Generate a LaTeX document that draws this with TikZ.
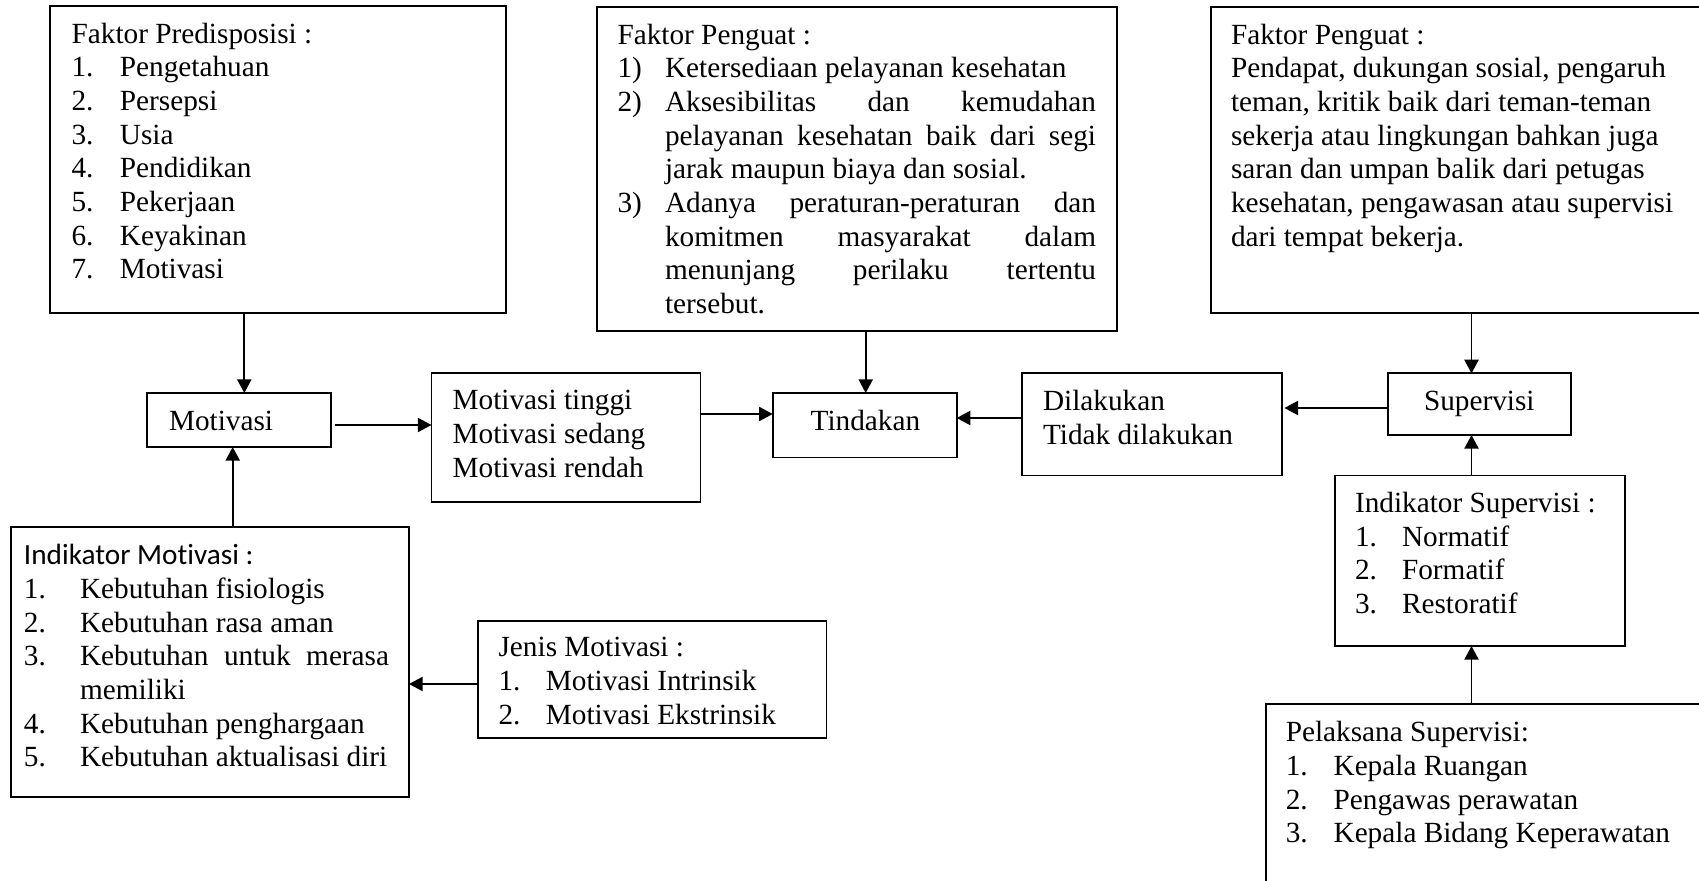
\documentclass[tikz,border=0pt]{standalone}
\usepackage{fontspec}
\setmainfont{Liberation Serif}
\newfontfamily\calibrifont[Ligatures=NoCommon]{Carlito}
\usetikzlibrary{arrows.meta,fit}
\newcommand{\nm}[2]{\makebox[#1][l]{#2}}
\newcommand{\js}[2]{\makebox[#1][s]{#2}}
\newcommand{\st}{\rule{0pt}{10pt}}
\begin{document}
\begin{tikzpicture}[x=0.41pt,y=-0.41pt,
  box/.style={draw, line width=0.8pt, inner sep=0pt, outer sep=0pt},
  txt/.style={inner sep=0pt, outer sep=0pt, anchor=north west, align=left, font=\fontsize{12}{13.8}\selectfont},
  arr/.style={line width=0.75pt, -{Triangle[length=5.6pt,width=5.8pt]}}]
\useasboundingbox (0,0) rectangle (1699,881);
\clip (0,0) rectangle (1699,881);

% boxes
\node[box, fit={(50,5.7) (506,312.7)}] (FP) {};
\node[box, fit={(596.8,7.3) (1116.8,331)}] (FPA) {};
\node[box, fit={(1210.7,7.3) (1720,312.7)}] (FPB) {};
\node[box, fit={(147.3,393) (331,447)}] (MOT) {};
\node[box, fit={(431.5,373) (700.5,502)}] (LVL) {};
\node[box, fit={(772.7,393) (956.7,457.5)}] (TND) {};
\node[box, fit={(1022,373.4) (1282,475.5)}] (DIL) {};
\node[box, fit={(1387.6,373.4) (1570.6,435)}] (SUP) {};
\node[box, fit={(1335,475.5) (1625.3,646)}] (ISUP) {};
\node[box, fit={(1265.8,703.8) (1720,900)}] (PEL) {};
\node[box, fit={(10.8,526.7) (409,796.7)}] (IMOT) {};
\node[box, fit={(478,621) (826.5,737.7)}] (JEN) {};

% texts
\node[txt] (FPt) at (71.6,18.9) {\st Faktor Predisposisi :\\
\nm{19.8pt}{1.}Pengetahuan\\
\nm{19.8pt}{2.}Persepsi\\
\nm{19.8pt}{3.}Usia\\
\nm{19.8pt}{4.}Pendidikan\\
\nm{19.8pt}{5.}Pekerjaan\\
\nm{19.8pt}{6.}Keyakinan\\
\nm{19.8pt}{7.}Motivasi};

\node[txt] (FPAt) at (617.5,19.9) {\st Faktor Penguat :\\
\nm{19.5pt}{1)}Ketersediaan pelayanan kesehatan\\
\nm{19.5pt}{2)}\js{176.7pt}{Aksesibilitas dan kemudahan}\\
\hspace*{19.5pt}\js{176.7pt}{pelayanan kesehatan baik dari segi}\\
\hspace*{19.5pt}jarak maupun biaya dan sosial.\\
\nm{19.5pt}{3)}\js{176.7pt}{Adanya peraturan-peraturan dan}\\
\hspace*{19.5pt}\js{176.7pt}{komitmen masyarakat dalam}\\
\hspace*{19.5pt}\js{176.7pt}{menunjang perilaku tertentu}\\
\hspace*{19.5pt}tersebut.};

\node[txt] (FPBt) at (1231,19.9) {\st Faktor Penguat :\\
Pendapat, dukungan sosial, pengaruh\\
teman, kritik baik dari teman-teman\\
sekerja atau lingkungan bahkan juga\\
saran dan umpan balik dari petugas\\
kesehatan, pengawasan atau supervisi\\
dari tempat bekerja.};

\node[txt] (MOTt) at (169,406.3) {\st Motivasi};
\node[txt] (LVLt) at (452.6,385.6) {\st Motivasi tinggi\\Motivasi sedang\\Motivasi rendah};
\node[txt] (TNDt) at (810.7,406.3) {\st Tindakan};
\node[txt] (DILt) at (1043,386.3) {\st Dilakukan\\Tidak dilakukan};
\node[txt] (SUPt) at (1424,386.3) {\st Supervisi};

\node[txt] (ISUPt) at (1355,488) {\st Indikator Supervisi :\\
\nm{19.3pt}{1.}Normatif\\
\nm{19.3pt}{2.}Formatif\\
\nm{19.3pt}{3.}Restoratif};

\node[txt] (PELt) at (1285.8,717.3) {\st Pelaksana Supervisi:\\
\nm{19.6pt}{1.}Kepala Ruangan\\
\nm{19.6pt}{2.}Pengawas perawatan\\
\nm{19.6pt}{3.}Kepala Bidang Keperawatan};

\node[txt] (IMOTt) at (24,540.6) {\st{\calibrifont Indikator Motivasi :}\\
\nm{23pt}{1.}Kebutuhan fisiologis\\
\nm{23pt}{2.}Kebutuhan rasa aman\\
\nm{23pt}{3.}\js{126.7pt}{Kebutuhan untuk merasa}\\
\hspace*{23pt}memiliki\\
\nm{23pt}{4.}Kebutuhan penghargaan\\
\nm{23pt}{5.}Kebutuhan aktualisasi diri};

\node[txt] (JENt) at (498.6,632.3) {\st Jenis Motivasi :\\
\nm{19.4pt}{1.}Motivasi Intrinsik\\
\nm{19.4pt}{2.}Motivasi Ekstrinsik};

% connectors
\draw[arr] (FP.south -| 244.3,0) -- (MOT.north -| 244.3,0);
\draw[arr] (MOT.east |- 0,425) ++(4,0) -- (LVL.west |- 0,425);
\draw[arr] (LVL.east |- 0,414) -- (TND.west |- 0,414);
\draw[arr] (FPA.south -| 865.7,0) -- (TND.north -| 865.7,0);
\draw[arr] (DIL.west |- 0,418) -- (TND.east |- 0,418);
\draw[arr, shorten >=1pt] (SUP.west |- 0,408) -- (DIL.east |- 0,408);
\draw[arr] (FPB.south -| 1471.5,0) -- (SUP.north -| 1471.5,0);
\draw[arr] (ISUP.north -| 1471.5,0) -- (SUP.south -| 1471.5,0);
\draw[arr] (PEL.north -| 1471.5,0) -- (ISUP.south -| 1471.5,0);
\draw[arr] (IMOT.north -| 232.7,0) -- (MOT.south -| 232.7,0);
\draw[arr] (JEN.west |- 0,684) -- (IMOT.east |- 0,684);
\end{tikzpicture}
\end{document}
